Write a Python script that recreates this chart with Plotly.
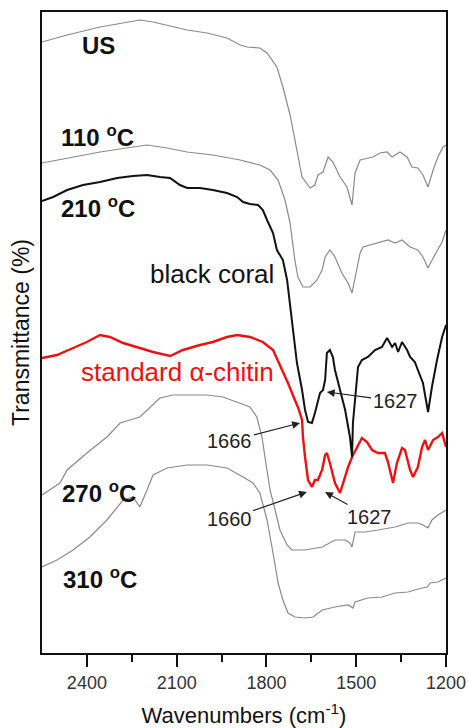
import plotly.graph_objects as go

# Wavenumbers (cm-1) and transmittance (arbitrary units, offset spectra)
us_x = [2550, 2466, 2356, 2266, 2223, 2179, 2112, 2065, 1999, 1932, 1888, 1865, 1822, 1798, 1765, 1745,
        1721, 1698, 1681, 1654, 1638, 1628, 1611, 1594, 1578, 1554, 1531, 1514, 1504, 1487, 1464, 1444,
        1421, 1397, 1380, 1354, 1330, 1314, 1294, 1277, 1260, 1243, 1227, 1210, 1200]
us_y = [611, 618, 626, 631, 633, 631, 626, 623, 620, 615, 608, 606, 605, 600, 586, 566,
        538, 500, 476, 465, 468, 478, 481, 496, 491, 476, 466, 448, 480, 493, 495, 496,
        500, 501, 496, 501, 496, 486, 485, 478, 466, 483, 496, 506, 508]

t110_x = [2550, 2466, 2356, 2246, 2199, 2132, 2065, 1979, 1888, 1822, 1788, 1761, 1738, 1721, 1711,
          1705, 1695, 1678, 1654, 1631, 1614, 1604, 1588, 1571, 1548, 1527, 1514, 1504, 1487, 1477,
          1454, 1421, 1394, 1370, 1347, 1320, 1294, 1277, 1260, 1243, 1227, 1213, 1200]
t110_y = [490, 495, 501, 506, 508, 505, 501, 498, 493, 488, 483, 473, 453, 430, 406,
          393, 376, 366, 366, 373, 383, 396, 403, 396, 380, 370, 360, 376, 400, 406,
          408, 411, 413, 410, 413, 406, 403, 396, 385, 395, 403, 411, 423]

coral_x = [2550, 2513, 2466, 2413, 2356, 2299, 2246, 2199, 2156, 2122, 2089, 2065, 2022, 1979, 1932,
           1898, 1878, 1855, 1828, 1812, 1798, 1778, 1765, 1745, 1731, 1721, 1711, 1698, 1681, 1671,
           1661, 1648, 1638, 1621, 1611, 1604, 1598, 1588, 1578, 1571, 1554, 1537, 1521, 1514, 1511,
           1504, 1497, 1494, 1481, 1461, 1437, 1414, 1397, 1380, 1370, 1360, 1347, 1330, 1320, 1304,
           1294, 1277, 1260, 1247, 1230, 1213, 1200]
coral_y = [452, 456, 463, 468, 471, 475, 477, 478, 476, 475, 468, 465, 465, 463, 460,
           456, 451, 449, 448, 443, 433, 420, 403, 393, 373, 346, 320, 290, 263, 243,
           231, 230, 240, 260, 263, 273, 300, 303, 296, 283, 263, 243, 216, 196, 230,
           256, 276, 286, 293, 296, 303, 306, 315, 306, 310, 301, 311, 303, 296, 291,
           283, 270, 241, 266, 293, 316, 328]

chitin_x = [2550, 2500, 2446, 2400, 2356, 2323, 2279, 2223, 2179, 2122, 2079, 2022, 1979, 1932, 1898,
            1855, 1812, 1778, 1755, 1728, 1705, 1695, 1681, 1678, 1671, 1661, 1648, 1638, 1628, 1614,
            1604, 1598, 1588, 1571, 1554, 1544, 1527, 1514, 1497, 1481, 1464, 1447, 1427, 1404, 1394,
            1377, 1364, 1347, 1337, 1320, 1310, 1294, 1280, 1270, 1260, 1243, 1227, 1213, 1200]
chitin_y = [295, 298, 305, 311, 318, 316, 310, 305, 301, 297, 303, 308, 311, 316, 318,
            316, 311, 303, 288, 270, 253, 246, 233, 216, 196, 173, 166, 173, 173, 183,
            198, 200, 190, 170, 160, 170, 186, 196, 206, 215, 211, 203, 200, 200, 191,
            170, 190, 205, 203, 183, 176, 186, 206, 213, 203, 213, 216, 220, 206]

t270_x = [2550, 2490, 2466, 2400, 2333, 2289, 2223, 2189, 2156, 2112, 2055, 1999, 1945, 1888, 1855,
          1832, 1815, 1805, 1795, 1788, 1771, 1755, 1731, 1715, 1671, 1614, 1571, 1537, 1521, 1514,
          1504, 1471, 1427, 1370, 1327, 1294, 1277, 1260, 1247, 1227, 1200]
t270_y = [158, 170, 183, 200, 216, 230, 236, 246, 255, 258, 258, 258, 256, 250, 246,
          236, 216, 196, 176, 163, 143, 123, 108, 103, 103, 106, 113, 113, 110, 106,
          121, 121, 123, 126, 130, 130, 128, 125, 133, 138, 143]

t310_x = [2550, 2500, 2446, 2390, 2333, 2279, 2246, 2223, 2199, 2179, 2132, 2065, 1999, 1932, 1878,
          1845, 1822, 1798, 1778, 1761, 1745, 1728, 1705, 1671, 1644, 1614, 1571, 1527, 1511, 1504,
          1461, 1414, 1370, 1327, 1280, 1263, 1253, 1227, 1200]
t310_y = [86, 93, 103, 116, 133, 153, 156, 146, 163, 178, 185, 188, 188, 185, 176,
          170, 160, 133, 100, 70, 53, 40, 36, 35, 36, 43, 46, 48, 45, 51,
          55, 56, 60, 61, 65, 66, 70, 71, 75]

x_ticks = [2400, 2100, 1800, 1500, 1200]

FONT = "Arial, Liberation Sans, sans-serif"
GRAY = "#8a8a8a"

fig = go.Figure()
series = [
    (us_x, us_y, GRAY, 1.2),
    (t110_x, t110_y, GRAY, 1.2),
    (t270_x, t270_y, GRAY, 1.2),
    (t310_x, t310_y, GRAY, 1.2),
    (chitin_x, chitin_y, "#ee1111", 2.4),
    (coral_x, coral_y, "#111111", 2.0),
]
for xs, ys, col, w in series:
    fig.add_trace(go.Scatter(x=xs, y=ys, mode="lines",
                             line=dict(color=col, width=w), showlegend=False,
                             hoverinfo="skip"))

labels = [
    ("US", 2423, 608),
    ("110 <sup>o</sup>C", 2493, 517),
    ("210 <sup>o</sup>C", 2493, 446),
    ("270 <sup>o</sup>C", 2490, 161),
    ("310 <sup>o</sup>C", 2487, 75),
]
for txt, x, y in labels:
    fig.add_annotation(x=x, y=y, text="<b>" + txt + "</b>", showarrow=False,
                       xanchor="left", yanchor="middle",
                       font=dict(family=FONT, size=24, color="#111111"))

fig.add_annotation(x=2196, y=379, text="black coral", showarrow=False,
                   xanchor="left", yanchor="middle",
                   font=dict(family=FONT, size=26, color="#111111"))
fig.add_annotation(x=2426, y=281, text="standard \u03b1-chitin", showarrow=False,
                   xanchor="left", yanchor="middle",
                   font=dict(family=FONT, size=26, color="#ee1111"))

arrows = [
    ("1666", 1688, 230, 1922, 212),
    ("1627", 1598, 261, 1370, 252),
    ("1660", 1665, 161, 1925, 134),
    ("1627", 1604, 161, 1454, 136),
]
for txt, hx, hy, tx, ty in arrows:
    fig.add_annotation(x=hx, y=hy, ax=tx, ay=ty, axref="x", ayref="y",
                       text=txt, showarrow=True, arrowhead=2, arrowsize=1.3,
                       arrowwidth=1.2, arrowcolor="#222222",
                       font=dict(family=FONT, size=20, color="#222222"))

fig.update_layout(
    width=468, height=728,
    margin=dict(l=42, r=22, t=12, b=75),
    paper_bgcolor="white", plot_bgcolor="white",
    font=dict(family=FONT),
)
fig.update_xaxes(
    range=[2550, 1200], tickvals=x_ticks, ticktext=[str(v) for v in x_ticks],
    ticks="outside", ticklen=12, tickwidth=2, tickcolor="#111111",
    minor=dict(ticks="outside", ticklen=7, tickwidth=2, tickcolor="#111111",
               tickvals=[2250, 1950, 1650, 1350]),
    showline=True, linewidth=2, linecolor="#111111", mirror=True,
    showgrid=False, zeroline=False, automargin=False,
    tickfont=dict(family=FONT, size=18, color="#333333"),
    title=dict(text="Wavenumbers (cm<sup>-1</sup>)", standoff=18,
               font=dict(family=FONT, size=22, color="#111111")),
)
fig.update_yaxes(
    range=[0, 641], showticklabels=False, ticks="",
    showline=True, linewidth=2, linecolor="#111111", mirror=True,
    showgrid=False, zeroline=False, automargin=False,
    title=dict(text="Transmittance (%)", standoff=4,
               font=dict(family=FONT, size=23, color="#111111")),
)

fig.write_html("out.html")
